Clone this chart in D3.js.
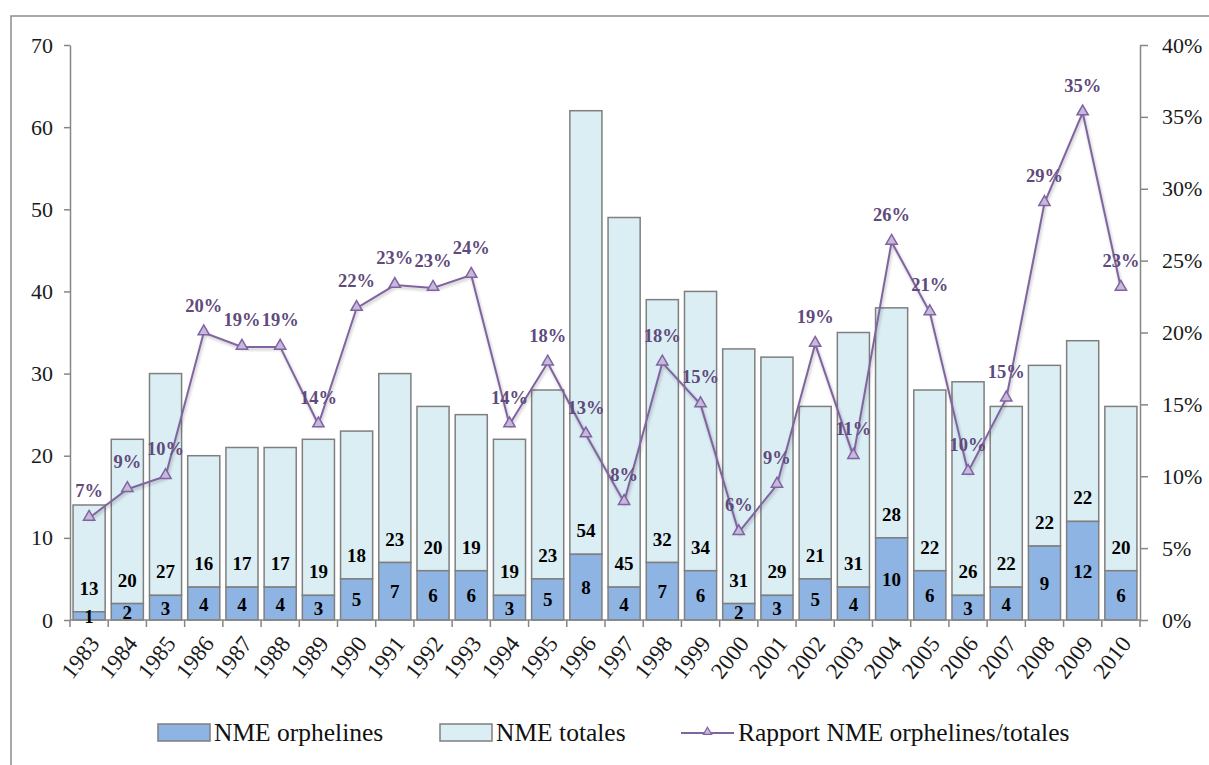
<!DOCTYPE html>
<html>
<head>
<meta charset="utf-8">
<script src="https://cdn.jsdelivr.net/npm/d3@7/dist/d3.min.js"></script>
<style>
  body { margin: 0; background: #fff; }
  svg { display: block; }
  svg text { font-family: "Liberation Serif", "Tinos", "Times New Roman", "DejaVu Serif", serif; }
  .axis path, .axis line { stroke: #868686; stroke-width: 1.5; }
  .axis text { font-size: 22px; fill: #1a1a1a; }
</style>
</head>
<body>
<div id="chart"></div>
<script>
// values
const years = ["1983","1984","1985","1986","1987","1988","1989","1990","1991","1992",
               "1993","1994","1995","1996","1997","1998","1999","2000","2001","2002",
               "2003","2004","2005","2006","2007","2008","2009","2010"];
const orphelines = [1,2,3,4,4,4,3,5,7,6,6,3,5,8,4,7,6,2,3,5,4,10,6,3,4,9,12,6];
const autres     = [13,20,27,16,17,17,19,18,23,20,19,19,23,54,45,32,34,31,29,21,31,28,22,26,22,22,22,20];
const rapport    = [0.071,0.091,0.100,0.200,0.190,0.190,0.136,0.217,0.233,0.231,0.240,0.136,0.179,0.129,
                    0.082,0.179,0.150,0.061,0.094,0.192,0.114,0.263,0.214,0.103,0.154,0.290,0.353,0.231];
const leftTicks  = [0,10,20,30,40,50,60,70];
const rightTicks = [0,0.05,0.10,0.15,0.20,0.25,0.30,0.35,0.40];
const legendLabels = ["NME orphelines","NME totales","Rapport NME orphelines/totales"];

const W = 1209, H = 765;
const plot = {x0: 70, x1: 1140, y0: 45, y1: 620};

const svg = d3.select("#chart").append("svg").attr("width", W).attr("height", H);

// outer frame of the chart
svg.append("rect")
  .attr("x", 11).attr("y", 16).attr("width", W + 50).attr("height", H + 50)
  .attr("fill", "none").attr("stroke", "#8c8c8c").attr("stroke-width", 1.5);

const x = d3.scaleBand().domain(years).range([plot.x0, plot.x1])
  .paddingInner(0.16).paddingOuter(0.08);
const y = d3.scaleLinear().domain([0, 70]).range([plot.y1, plot.y0]);
const yr = d3.scaleLinear().domain([0, 0.4]).range([plot.y1, plot.y0]);

const rows = years.map((yy, i) => ({year: yy, orph: orphelines[i], autre: autres[i], ratio: rapport[i]}));

const colDark = "#8db4e2", colLight = "#dbeef4", colStroke = "#7f7f7f";
const purple = "#8064a2", purpleText = "#604a7b";

// bars : orphelines at bottom, remainder stacked on top
const gBars = svg.append("g");
gBars.selectAll("rect.light").data(rows).join("rect")
  .attr("class", "light")
  .attr("x", d => x(d.year)).attr("width", x.bandwidth())
  .attr("y", d => y(d.orph + d.autre))
  .attr("height", d => y(d.orph) - y(d.orph + d.autre))
  .attr("fill", colLight).attr("stroke", colStroke).attr("stroke-width", 1.5);
gBars.selectAll("rect.dark").data(rows).join("rect")
  .attr("class", "dark")
  .attr("x", d => x(d.year)).attr("width", x.bandwidth())
  .attr("y", d => y(d.orph))
  .attr("height", d => y(0) - y(d.orph))
  .attr("fill", colDark).attr("stroke", colStroke).attr("stroke-width", 1.5);

// axes
svg.append("g").attr("class", "axis").attr("transform", `translate(${plot.x0},0)`)
  .call(d3.axisLeft(y).tickValues(leftTicks).tickSize(6).tickPadding(11).tickSizeOuter(0))
  .attr("font-family", null).attr("font-size", null);
svg.append("g").attr("class", "axis").attr("transform", `translate(${plot.x1},0)`)
  .call(d3.axisRight(yr).tickValues(rightTicks).tickSize(8).tickPadding(14).tickSizeOuter(0)
    .tickFormat(d => Math.round(d * 100) + "%"))
  .attr("font-family", null).attr("font-size", null);

// x axis: line + ticks at category boundaries
const step = x.step();
const gx = svg.append("g").attr("class", "axis");
gx.append("line").attr("x1", plot.x0).attr("x2", plot.x1).attr("y1", plot.y1).attr("y2", plot.y1);
const bounds = years.map(yy => x(yy) - x.paddingInner() * step / 2).concat([plot.x1]);
gx.selectAll("line.tk").data(bounds).join("line").attr("class", "tk")
  .attr("x1", d => d).attr("x2", d => d).attr("y1", plot.y1).attr("y2", plot.y1 + 7);
gx.selectAll("text").data(years).join("text")
  .attr("transform", d => `translate(${x(d) + x.bandwidth() / 2 + 5},${plot.y1 + 19}) rotate(-52)`)
  .attr("text-anchor", "end").attr("dy", "0.35em")
  .style("font-size", "23px")
  .text(d => d);

// line of ratio
const line = d3.line().x(d => x(d.year) + x.bandwidth() / 2).y(d => yr(d.ratio));
svg.append("path").datum(rows)
  .attr("d", line).attr("fill", "none").attr("stroke", purple).attr("stroke-width", 2)
  .style("filter", "drop-shadow(1px 2px 1.5px rgba(0,0,0,0.25))");
const tri = d3.symbol().type(d3.symbolTriangle).size(55);
svg.selectAll("path.mk").data(rows).join("path").attr("class", "mk")
  .attr("transform", d => `translate(${x(d.year) + x.bandwidth() / 2},${yr(d.ratio) - 1})`)
  .attr("d", tri).attr("fill", "#c6b9dc").attr("stroke", purple).attr("stroke-width", 1.5);

// data labels
const gLab = svg.append("g").style("font-weight", "bold").style("font-size", "19px")
  .attr("text-anchor", "middle");
gLab.selectAll("text.o").data(rows).join("text").attr("class", "o")
  .attr("x", d => x(d.year) + x.bandwidth() / 2)
  .attr("y", d => (y(0) + y(d.orph)) / 2 + 7)
  .attr("fill", "#000").text(d => d.orph);
gLab.selectAll("text.a").data(rows).join("text").attr("class", "a")
  .attr("x", d => x(d.year) + x.bandwidth() / 2)
  .attr("y", d => y(d.orph) - 17)
  .attr("fill", "#000").text(d => d.autre);
gLab.selectAll("text.r").data(rows).join("text").attr("class", "r")
  .attr("x", d => x(d.year) + x.bandwidth() / 2)
  .attr("y", d => yr(d.ratio) - 21)
  .attr("fill", purpleText).style("font-size", "18.5px")
  .text(d => Math.round(d.ratio * 100) + "%");

// legend
const lg = svg.append("g").style("font-size", "25.5px").attr("fill", "#111");
lg.append("rect").attr("x", 158).attr("y", 724).attr("width", 52).attr("height", 17)
  .attr("fill", colDark).attr("stroke", colStroke).attr("stroke-width", 1.5);
lg.append("text").attr("x", 214).attr("y", 741).text(legendLabels[0]);
lg.append("rect").attr("x", 440).attr("y", 724).attr("width", 52).attr("height", 17)
  .attr("fill", colLight).attr("stroke", colStroke).attr("stroke-width", 1.5);
lg.append("text").attr("x", 496).attr("y", 741).text(legendLabels[1]);
lg.append("line").attr("x1", 681).attr("x2", 734).attr("y1", 733).attr("y2", 733)
  .attr("stroke", purple).attr("stroke-width", 2);
lg.append("path").attr("transform", "translate(707.5,732)")
  .attr("d", d3.symbol().type(d3.symbolTriangle).size(30))
  .attr("fill", "#c6b9dc").attr("stroke", purple).attr("stroke-width", 1.2);
lg.append("text").attr("x", 738).attr("y", 741).text(legendLabels[2]);
</script>
</body>
</html>
